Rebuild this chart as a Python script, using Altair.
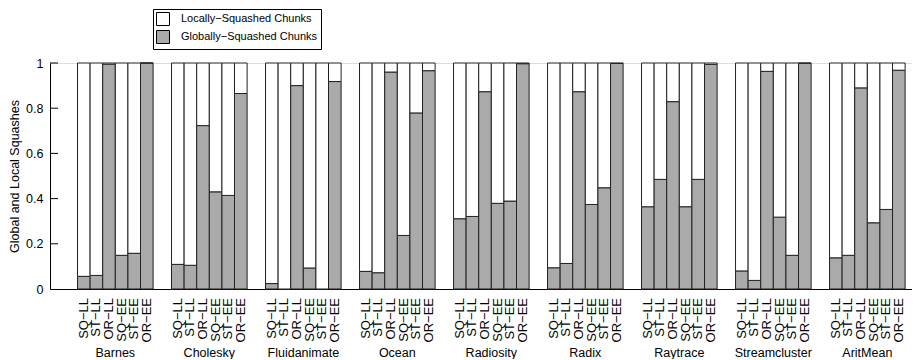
import altair as alt
import pandas as pd

groups = ["Barnes", "Cholesky", "Fluidanimate", "Ocean", "Radiosity",
          "Radix", "Raytrace", "Streamcluster", "AritMean"]
configs = ["SQ\u2212LL", "ST\u2212LL", "OR\u2212LL", "SQ\u2212EE", "ST\u2212EE", "OR\u2212EE"]

local_label = "Locally\u2212Squashed Chunks"
global_label = "Globally\u2212Squashed Chunks"

# Globally-squashed fraction per benchmark (bars in config order)
global_barnes = [0.056, 0.060, 0.995, 0.149, 0.158, 1.000]
global_cholesky = [0.109, 0.105, 0.723, 0.430, 0.414, 0.865]
global_fluidanimate = [0.024, 0.000, 0.900, 0.093, 0.000, 0.918]
global_ocean = [0.078, 0.072, 0.960, 0.237, 0.779, 0.966]
global_radiosity = [0.311, 0.321, 0.873, 0.379, 0.389, 0.997]
global_radix = [0.094, 0.113, 0.873, 0.374, 0.448, 0.998]
global_raytrace = [0.364, 0.485, 0.829, 0.364, 0.485, 0.994]
global_streamcluster = [0.080, 0.038, 0.963, 0.318, 0.149, 0.999]
global_aritmean = [0.138, 0.149, 0.890, 0.293, 0.352, 0.968]

# Locally-squashed fraction per benchmark
local_barnes = [0.944, 0.940, 0.005, 0.851, 0.842, 0.000]
local_cholesky = [0.891, 0.895, 0.277, 0.570, 0.586, 0.135]
local_fluidanimate = [0.976, 1.000, 0.100, 0.907, 1.000, 0.082]
local_ocean = [0.922, 0.928, 0.040, 0.763, 0.221, 0.034]
local_radiosity = [0.689, 0.679, 0.127, 0.621, 0.611, 0.003]
local_radix = [0.906, 0.887, 0.127, 0.626, 0.552, 0.002]
local_raytrace = [0.636, 0.515, 0.171, 0.636, 0.515, 0.006]
local_streamcluster = [0.920, 0.962, 0.037, 0.682, 0.851, 0.001]
local_aritmean = [0.862, 0.851, 0.110, 0.707, 0.648, 0.032]

y_tick_values = [0, 0.2, 0.4, 0.6, 0.8, 1]
inner_tick_values = [0.2, 0.4, 0.6, 0.8, 1]

global_series = [global_barnes, global_cholesky, global_fluidanimate, global_ocean,
                 global_radiosity, global_radix, global_raytrace,
                 global_streamcluster, global_aritmean]
local_series = [local_barnes, local_cholesky, local_fluidanimate, local_ocean,
                local_radiosity, local_radix, local_raytrace,
                local_streamcluster, local_aritmean]

rows = []
for g, gv, lv in zip(groups, global_series, local_series):
    for c, a, b in zip(configs, gv, lv):
        rows.append({"group": g, "config": c, "kind": global_label, "ord": 0, "value": a})
        rows.append({"group": g, "config": c, "kind": local_label, "ord": 1, "value": b})
df = pd.DataFrame(rows)
label_df = df[df["kind"] == global_label][["group", "config"]].reset_index(drop=True)
tick_df = pd.DataFrame({"value": inner_tick_values})

FONT = "Liberation Sans, Arial, Helvetica, sans-serif"
W, H = 862, 226

x_enc = alt.X(
    "group:N", sort=groups,
    scale=alt.Scale(paddingInner=0.196, paddingOuter=0.183, align=0.8),
    axis=alt.Axis(title=None, labelAngle=0, ticks=False, labelPadding=57,
                  labelFontSize=12.5, labelColor="black", domainColor="black",
                  domainWidth=1, labelFont=FONT),
)
xoff_enc = alt.XOffset("config:N", sort=configs,
                       scale=alt.Scale(paddingInner=0, paddingOuter=0))
y_axis = alt.Axis(title="Global and Local Squashes", values=y_tick_values, format="~g",
                  ticks=False, grid=False, labelPadding=7, titlePadding=4,
                  labelFontSize=12.5, titleFontSize=12.5, titleFontWeight="normal",
                  labelColor="black", titleColor="black", domainColor="black",
                  labelFont=FONT, titleFont=FONT)
y_scale = alt.Scale(domain=[0, 1], nice=False)

bars = alt.Chart(df).mark_bar(stroke="#222222", strokeWidth=1).encode(
    x=x_enc,
    xOffset=xoff_enc,
    y=alt.Y("value:Q", stack="zero", scale=y_scale, axis=y_axis),
    color=alt.Color(
        "kind:N",
        scale=alt.Scale(domain=[local_label, global_label], range=["#ffffff", "#aaaaaa"]),
        legend=alt.Legend(
            title=None, orient="none", legendX=103, legendY=-54,
            strokeColor="black", fillColor="white", padding=3,
            symbolType="square", symbolSize=169, symbolStrokeColor="black",
            symbolStrokeWidth=1, labelFontSize=11, labelOffset=11, rowPadding=0,
            labelFont=FONT, labelColor="black", symbolOpacity=1,
        ),
    ),
    order=alt.Order("ord:Q"),
)

config_labels = alt.Chart(label_df).mark_text(
    angle=270, align="right", baseline="middle", fontSize=13, font=FONT, color="black"
).encode(
    x=x_enc,
    xOffset=xoff_enc,
    y=alt.value(H + 9),
    text="config:N",
)

inner_ticks = alt.Chart(tick_df).mark_rule(color="black", strokeWidth=1).encode(
    y=alt.Y("value:Q", scale=y_scale, axis=y_axis),
    x=alt.value(0),
    x2=alt.value(8),
)

chart = alt.layer(bars, config_labels, inner_ticks).properties(
    width=W, height=H, padding={"left": 0, "top": 0, "right": 0, "bottom": 0}
).configure_view(stroke=None).configure(font=FONT)

chart.save("out.html", embed_options={"renderer": "svg", "actions": False})
